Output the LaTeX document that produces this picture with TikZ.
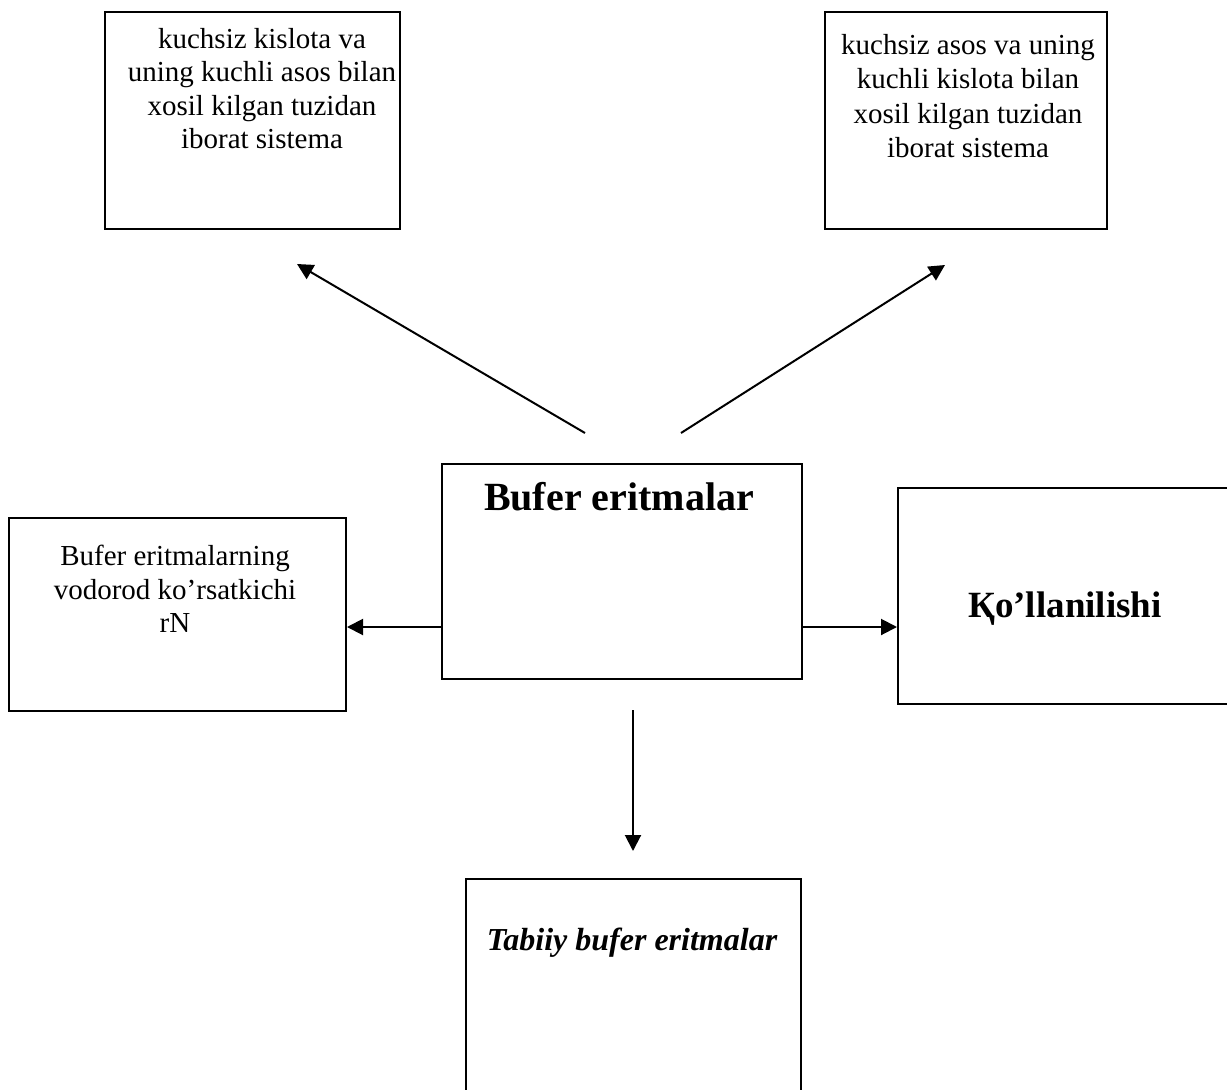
\documentclass[tikz,border=0pt]{standalone}
\usepackage{fontspec}
\setmainfont{Liberation Serif}
\usetikzlibrary{arrows.meta}
\begin{document}
\begin{tikzpicture}[x=1pt,y=-1pt,
  box/.style={draw,line width=2pt,rectangle,inner sep=0pt,anchor=north west},
  lbl/.style={align=center,inner sep=0pt},
  body/.style={font=\fontsize{29}{33.4}\selectfont},
  link/.style={line width=2pt,-{Triangle[length=16pt,width=16pt]}}]
\useasboundingbox[fill=white] (0,0) rectangle (1227,1090);

% boxes
\node[box,minimum width=295pt,minimum height=217pt] (acid) at (104,11) {};
\node[box,minimum width=282pt,minimum height=217pt] (base) at (824,11) {};
\node[box,minimum width=360pt,minimum height=215pt] (buf) at (441,463) {};
\node[box,minimum width=337pt,minimum height=193pt] (ph) at (8,517) {};
\node[box,minimum width=345pt,minimum height=216pt] (use) at (897,487) {};
\node[box,minimum width=335pt,minimum height=240pt] (nat) at (465,878) {};

% texts
\node[lbl,body,anchor=north] (acidt) at (262,28.2)
  {kuchsiz kislota va\\uning kuchli asos bilan\\xosil kilgan tuzidan\\iborat sistema};
\node[lbl,anchor=north,font=\fontsize{29}{34.3}\selectfont] (baset) at (968,34.2)
  {kuchsiz asos va uning\\kuchli kislota bilan\\xosil kilgan tuzidan\\iborat sistema};
\node[lbl,anchor=base,font=\fontsize{40}{46}\selectfont\bfseries] (buft) at (619,510) {Bufer eritmalar};
\node[lbl,body,anchor=north] (pht) at (175,545.2)
  {Bufer eritmalarning\\vodorod ko’rsatkichi\\rN};
\node[lbl,anchor=base,font=\fontsize{37}{42}\selectfont\bfseries] (uset) at (1065,617) {Қo’llanilishi};
\node[lbl,anchor=base,font=\fontsize{32}{37}\selectfont\bfseries\itshape] (natt) at (632,950) {Tabiiy bufer eritmalar};

% connector ends
\coordinate (h) at (0,627);
\coordinate (dl0) at (585,433);
\coordinate (dl1) at (297,264);
\coordinate (dr0) at (681,433);
\coordinate (dr1) at (945,265);
\coordinate (d0) at (633,710);
\coordinate (d1) at (633,851);

% connectors
\draw[link] (buf.west |- h) -- (ph.east |- h);
\draw[link] (buf.east |- h) -- (use.west |- h);
\draw[link] (dl0) -- (dl1);
\draw[link] (dr0) -- (dr1);
\draw[link] (d0) -- (d1);
\end{tikzpicture}
\end{document}
